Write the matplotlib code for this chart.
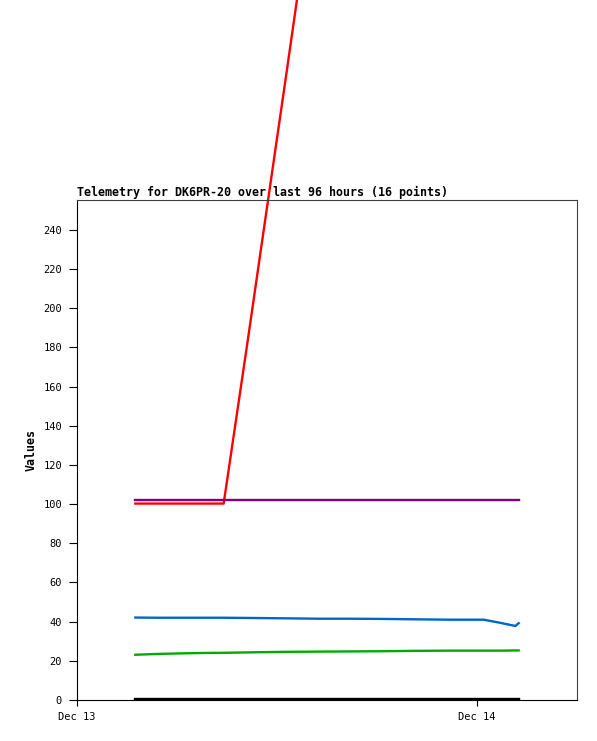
import pandas as pd
import matplotlib
matplotlib.use("Agg")
import matplotlib.pyplot as plt
import matplotlib.dates as mdates


# hours after Dec 13 00:00 for the 16 points
hours = [3.5, 4.8, 6.2, 7.5, 8.8, 10.2, 12.6, 14.5, 16.4, 18.3, 20.3, 22.4, 24.4, 25.4, 26.3, 26.5]

red = [100.3, 100.3, 100.3, 100.3, 100.3, 181.0, 322.0, 435.0, 440.0, 445.0, 450.0, 455.0, 458.0, 460.0, 462.0, 463.0]
purple = [102.1] * 16
blue = [42.1, 42.0, 42.0, 42.0, 42.0, 41.9, 41.7, 41.5, 41.5, 41.4, 41.2, 41.0, 41.0, 39.4, 37.8, 39.2]
green = [23.1, 23.5, 23.8, 24.0, 24.1, 24.3, 24.6, 24.7, 24.8, 24.9, 25.1, 25.2, 25.2, 25.2, 25.3, 25.3]
black = [0.3] * 16

start = pd.Timestamp("2023-12-13")
times = start + pd.to_timedelta(hours, unit="h")

fig = plt.figure(figsize=(5.97, 7.41), dpi=100)
ax = fig.add_axes([77 / 597, 41 / 741, 500 / 597, 500 / 741])

lw = 1.7
ax.plot(times, red, c="#ff0000", lw=lw, clip_on=False)
ax.plot(times, purple, c="#800080", lw=lw)
ax.plot(times, blue, c="#0066cc", lw=lw)
ax.plot(times, green, c="#00aa00", lw=lw)
ax.plot(times, black, c="#000000", lw=lw)

ax.set_xlim(start, start + pd.Timedelta(hours=30))
ax.set_ylim(0, 255.3)
ax.set_yticks(range(0, 241, 20))
ax.xaxis.set_major_locator(mdates.DayLocator())
ax.xaxis.set_major_formatter(mdates.DateFormatter("%b %d"))

ax.tick_params(axis="y", length=5.8, width=0.8, pad=5, labelsize=7.5, labelfontfamily="DejaVu Sans Mono")
ax.tick_params(axis="x", length=4.3, width=0.8, pad=4, labelsize=7.5, labelfontfamily="DejaVu Sans Mono")

for side in ["left", "bottom"]:
    ax.spines[side].set_color("black")
    ax.spines[side].set_linewidth(0.8)
for side in ["top", "right"]:
    ax.spines[side].set_color("#404040")
    ax.spines[side].set_linewidth(0.8)

ax.set_ylabel("Values", family="DejaVu Sans Mono", fontweight="bold", fontsize=8.38, labelpad=4)
ax.set_title("Telemetry for DK6PR-20 over last 96 hours (16 points)", loc="left",
             family="DejaVu Sans Mono", fontweight="bold", fontsize=8.38, pad=3)

plt.savefig("out.png", dpi=100)
